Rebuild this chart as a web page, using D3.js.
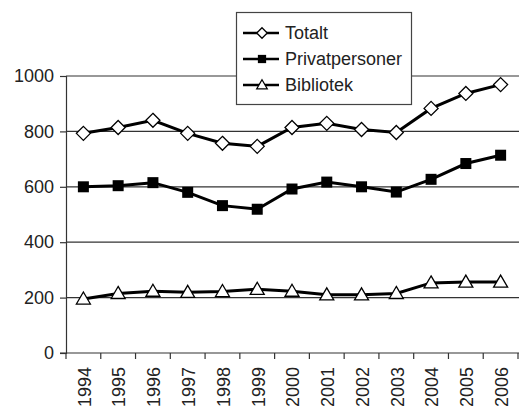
<!DOCTYPE html>
<html><head><meta charset="utf-8">
<script src="https://cdn.jsdelivr.net/npm/d3@7"></script>
<style>body{margin:0;background:#fff}</style>
</head><body>
<svg id="c" width="524" height="406"></svg>
<script>
const years = ["1994","1995","1996","1997","1998","1999","2000","2001","2002","2003","2004","2005","2006"];
const totalt = [793,814,840,793,757,746,814,829,807,796,883,937,969];
const privat = [600,604,615,580,532,519,592,617,600,581,627,684,714];
const bibliotek = [195,215,223,219,222,230,223,210,210,215,253,256,256];
const yTicks = [0,200,400,600,800,1000];
const seriesNames = ["Totalt","Privatpersoner","Bibliotek"];

const svg = d3.select("#c");
const m = {l:66, r:518, t:76, b:353};
const x = d3.scaleBand().domain(years).range([m.l, m.r]);
const y = d3.scaleLinear().domain([0,1000]).range([m.b, m.t]);
const font = "'Liberation Sans', Arial, sans-serif";
const fs = 18;

// gridlines
svg.append("g").selectAll("line").data(yTicks.filter(d=>d>0)).join("line")
  .attr("x1", m.l).attr("x2", m.r+1).attr("y1", d=>y(d)).attr("y2", d=>y(d))
  .attr("stroke","#333").attr("stroke-width",1.2);

// y axis
const ya = svg.append("g").attr("transform",`translate(${m.l},0)`)
  .call(d3.axisLeft(y).tickValues(yTicks).tickSize(6).tickPadding(6).tickFormat(d3.format("d")));
ya.select(".domain").attr("stroke","#333").attr("stroke-width",1.2);
ya.selectAll(".tick line").attr("stroke","#333").attr("stroke-width",1.2);
ya.selectAll("text").attr("font-family",font).attr("font-size",fs).attr("fill","#222");

// x axis
const xa = svg.append("g").attr("transform",`translate(0,${m.b})`)
  .call(d3.axisBottom(x).tickSize(0).tickPadding(0));
xa.select(".domain").remove();
xa.append("line").attr("x1",m.l-6).attr("x2",m.r+1).attr("y1",0).attr("y2",0).attr("stroke","#333").attr("stroke-width",1.2);
const edges = years.map(d=>x(d)).concat([m.r]);
xa.selectAll(".edge").data(edges).join("line").attr("class","edge")
  .attr("x1",d=>d).attr("x2",d=>d).attr("y1",0).attr("y2",6)
  .attr("stroke","#333").attr("stroke-width",1.2);
xa.selectAll(".tick text")
  .attr("font-family",font).attr("font-size",fs).attr("fill","#222")
  .attr("transform","rotate(-90)").attr("text-anchor","end")
  .attr("x",-14).attr("y",1).attr("dy","0.35em");

const cx = d => x(d) + x.bandwidth()/2;
const line = d3.line().x((d,i)=>cx(years[i])).y(d=>y(d));

function drawSeries(vals, type){
  svg.append("path").datum(vals).attr("d",line).attr("fill","none")
    .attr("stroke","#000").attr("stroke-width",3);
  const g = svg.append("g");
  vals.forEach((v,i)=>marker(g, cx(years[i]), y(v), type, 1));
}
function marker(g, px, py, type, s){
  if(type==="diamond"){
    const r = 7*s;
    g.append("path").attr("d",`M${px},${py-r}L${px+r},${py}L${px},${py+r}L${px-r},${py}Z`)
      .attr("fill","#fff").attr("stroke","#000").attr("stroke-width",1.3);
  } else if(type==="square"){
    const h = 5.5*s;
    g.append("rect").attr("x",px-h).attr("y",py-h).attr("width",2*h).attr("height",2*h)
      .attr("fill","#000");
  } else {
    const r = 7*s;
    g.append("path").attr("d",`M${px},${py-r}L${px+r},${py+r*0.72}L${px-r},${py+r*0.72}Z`)
      .attr("fill","#fff").attr("stroke","#000").attr("stroke-width",1.3);
  }
}
drawSeries(bibliotek,"triangle");
drawSeries(privat,"square");
drawSeries(totalt,"diamond");

// legend
const lg = svg.append("g");
lg.append("rect").attr("x",236.5).attr("y",12.5).attr("width",175).attr("height",92)
  .attr("fill","#fff").attr("stroke","#444").attr("stroke-width",1.2);
const types = ["diamond","square","triangle"];
const ly = [33,59,85];
seriesNames.forEach((n,i)=>{
  lg.append("line").attr("x1",243).attr("x2",279).attr("y1",ly[i]).attr("y2",ly[i])
    .attr("stroke","#000").attr("stroke-width",2.5);
  marker(lg,262,ly[i],types[i],0.75);
  lg.append("text").attr("x",285).attr("y",ly[i]).attr("dy","0.35em")
    .attr("font-family",font).attr("font-size",fs).attr("fill","#222").text(n);
});
</script>
</body></html>
